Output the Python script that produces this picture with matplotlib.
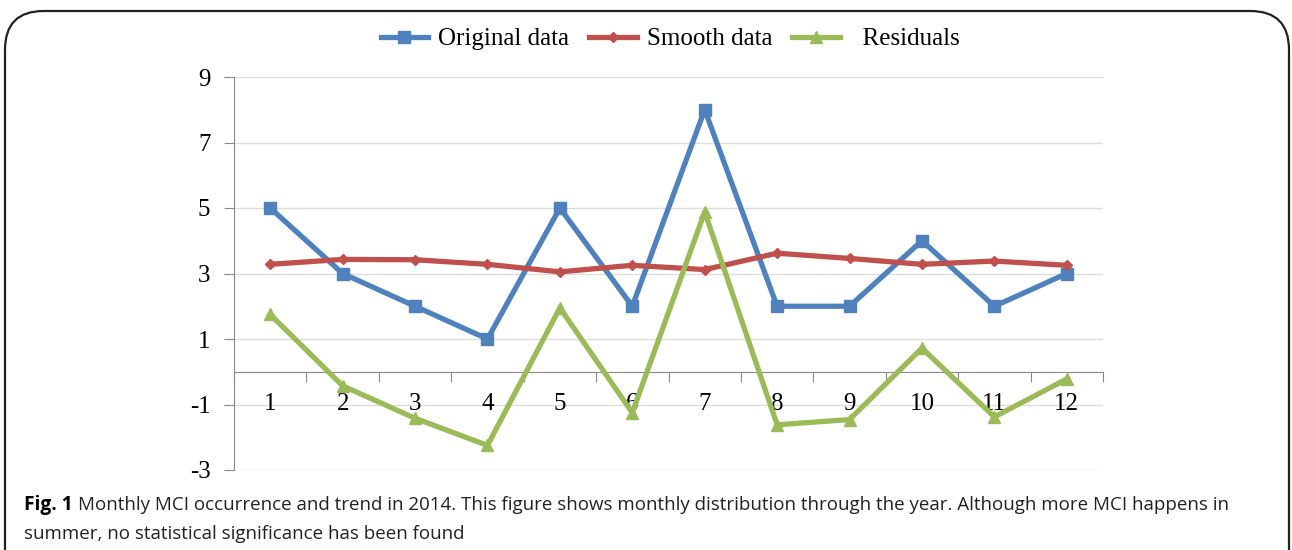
import matplotlib.pyplot as plt
import numpy as np
from matplotlib.patches import FancyBboxPatch

months = [1, 2, 3, 4, 5, 6, 7, 8, 9, 10, 11, 12]
original = [5, 3, 2, 1, 5, 2, 8, 2, 2, 4, 2, 3]
smooth = [3.28, 3.43, 3.42, 3.28, 3.05, 3.25, 3.12, 3.62, 3.46, 3.28, 3.38, 3.25]
residuals = [1.75, -0.43, -1.42, -2.25, 1.95, -1.25, 4.88, -1.62, -1.46, 0.72, -1.38, -0.22]
yticks = [-3, -1, 1, 3, 5, 7, 9]

fig = plt.figure(figsize=(12.92, 5.5), dpi=100)

# rounded frame round the figure
frame = FancyBboxPatch((5 / 1292, -0.1), 1284 / 1292, 0.1 + 1 - 11 / 550,
                       boxstyle='round,pad=0,rounding_size=0.03',
                       transform=fig.transFigure, fill=False, lw=1.6,
                       ec='#222222', mutation_aspect=1292 / 550)
fig.patches.append(frame)

ax = fig.add_axes([234 / 1292, 1 - 470 / 550, 869 / 1292, 393 / 550])
serif = 'Liberation Serif'

ax.plot(months, original, color='#4F81BD', lw=3.8, marker='s', ms=9,
        label='Original data', zorder=3)
ax.plot(months, smooth, color='#C0504D', lw=3.8, marker='D', ms=5,
        label='Smooth data', zorder=3)
ax.plot(months, residuals, color='#9BBB59', lw=3.8, marker='^', ms=9,
        label='  Residuals', zorder=3)

ax.set_xlim(0.5, 12.5)
ax.set_ylim(-3, 9)
ax.set_yticks(yticks)
ax.set_yticklabels([str(v) for v in yticks], fontfamily=serif, fontsize=18)
ax.yaxis.grid(True, color='#DDDDDD', lw=1)
ax.set_axisbelow(True)

# x axis crosses at zero, ticks between categories
ax.spines['bottom'].set_position(('data', 0))
for s in ['top', 'right']:
    ax.spines[s].set_visible(False)
ax.spines['left'].set_color('#888888')
ax.spines['bottom'].set_color('#888888')
ax.set_xticks(np.arange(0.5, 13, 1))
ax.set_xticklabels([])
ax.tick_params(axis='x', direction='out', length=7, color='#888888')
ax.tick_params(axis='y', direction='out', length=7, color='#888888', pad=10)
for m in months:
    ax.text(m, -1, str(m), ha='center', va='center', fontfamily=serif,
            fontsize=18, zorder=2)

fig.legend(loc='center', bbox_to_anchor=(670 / 1292, 1 - 39 / 550), ncol=3,
           frameon=False, prop={'family': serif, 'size': 18},
           handlelength=1.9, handletextpad=0.4, columnspacing=0.8)

# caption: bold label then the rest right after it
lab = fig.text(24 / 1292, 1 - 505 / 550, 'Fig. 1', fontsize=13.8,
               fontweight='bold', va='center', family='Open Sans')
fig.canvas.draw()
bb = lab.get_window_extent()
fig.text((bb.x1 + 5) / 1292, 1 - 505 / 550,
         'Monthly MCI occurrence and trend in 2014. This figure shows monthly distribution through the year. Although more MCI happens in',
         fontsize=13.5, va='center', family='Open Sans', color='#222222')
fig.text(24 / 1292, 1 - 534 / 550,
         'summer, no statistical significance has been found',
         fontsize=13.5, va='center', family='Open Sans', color='#222222')

fig.savefig('out.png', dpi=100)
